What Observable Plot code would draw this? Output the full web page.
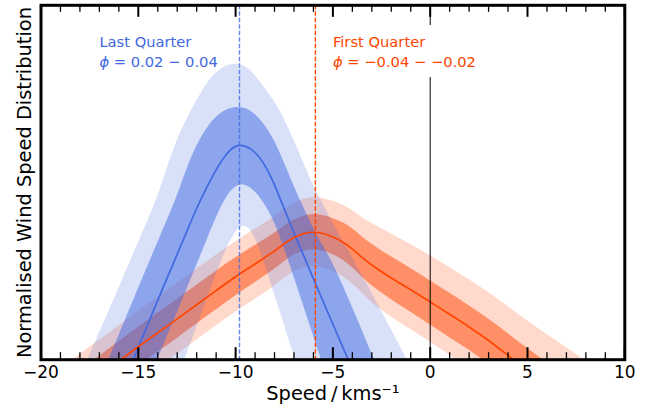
<!DOCTYPE html>
<html><head><meta charset="utf-8">
<script src="https://cdn.jsdelivr.net/npm/d3@7"></script>
<script src="https://cdn.jsdelivr.net/npm/@observablehq/plot@0.6"></script>
<style>body{margin:0;background:#fff} svg{display:block}</style>
</head><body><div id="chart"></div>
<script>
// ---- Last Quarter (blue) ----
const blueX        = [-19,-18,-17,-16,-15,-14,-13.5,-13,-12.5,-12,-11.5,-11,-10.5,-10,-9.5,-9,-8.5,-8,-7.5,-7,-6.5,-6,-5.5,-5,-4,-3,-2,-1,0];
const blueMedian   = [-0.49,-0.36,-0.23,-0.1,0.035,0.168,0.233,0.298,0.363,0.428,0.485,0.537,0.58,0.607,0.604,0.588,0.552,0.495,0.425,0.358,0.293,0.228,0.164,0.1,-0.027,-0.155,-0.28,-0.41,-0.54];
const blueInnerUp  = [-0.32,-0.195,-0.065,0.068,0.2,0.33,0.395,0.46,0.54,0.605,0.652,0.686,0.705,0.713,0.711,0.694,0.664,0.62,0.557,0.49,0.43,0.37,0.32,0.275,0.15,0.018,-0.115,-0.25,-0.38];
const blueInnerLo  = [-0.62,-0.53,-0.4,-0.265,-0.13,0.0,0.066,0.132,0.198,0.265,0.332,0.4,0.458,0.492,0.495,0.476,0.44,0.39,0.315,0.235,0.15,0.068,-0.015,-0.1,-0.27,-0.44,-0.6,-0.75,-0.9];
const blueOuterUp  = [-0.18,-0.05,0.075,0.2,0.33,0.455,0.545,0.62,0.68,0.73,0.778,0.81,0.83,0.836,0.83,0.804,0.767,0.73,0.68,0.62,0.555,0.49,0.44,0.385,0.29,0.19,0.085,-0.02,-0.12];
const blueOuterLo  = [-0.85,-0.7,-0.55,-0.42,-0.29,-0.17,-0.11,-0.05,0.014,0.09,0.165,0.24,0.31,0.365,0.385,0.35,0.27,0.185,0.1,0.01,-0.07,-0.15,-0.23,-0.31,-0.47,-0.63,-0.79,-0.95,-1.1];
const blueCentre = -9.8;

// ---- First Quarter (orange) ----
const orangeX       = [-20,-19,-18,-17,-16,-15,-14,-13,-12,-11,-10,-9,-8,-7.5,-7,-6.5,-6,-5.5,-5,-4.5,-4,-3.5,-3,-2,-1,0,1,2,3,4,5,6,7,8,9];
const orangeMedian  = [-0.165,-0.125,-0.085,-0.045,-0.005,0.037,0.076,0.115,0.155,0.195,0.235,0.27,0.306,0.328,0.346,0.357,0.361,0.357,0.347,0.333,0.313,0.288,0.266,0.23,0.198,0.163,0.128,0.093,0.055,0.012,-0.03,-0.07,-0.11,-0.15,-0.19];
const orangeInnerUp = [-0.11,-0.07,-0.03,0.01,0.05,0.092,0.131,0.17,0.21,0.25,0.288,0.322,0.356,0.377,0.395,0.406,0.411,0.408,0.399,0.388,0.37,0.347,0.325,0.29,0.258,0.223,0.188,0.153,0.115,0.074,0.032,-0.008,-0.048,-0.09,-0.13];
const orangeInnerLo = [-0.22,-0.18,-0.14,-0.1,-0.06,-0.018,0.021,0.06,0.1,0.14,0.18,0.217,0.254,0.277,0.296,0.307,0.311,0.307,0.297,0.283,0.26,0.233,0.208,0.168,0.134,0.098,0.062,0.027,-0.012,-0.055,-0.1,-0.14,-0.18,-0.22,-0.26];
const orangeOuterUp = [-0.065,-0.025,0.015,0.055,0.095,0.137,0.176,0.215,0.255,0.295,0.334,0.368,0.403,0.424,0.442,0.454,0.459,0.456,0.448,0.437,0.422,0.4,0.385,0.355,0.325,0.294,0.26,0.226,0.19,0.15,0.11,0.07,0.035,-0.005,-0.045];
const orangeOuterLo = [-0.265,-0.225,-0.185,-0.145,-0.105,-0.063,-0.024,0.015,0.055,0.095,0.135,0.17,0.206,0.23,0.249,0.26,0.264,0.26,0.25,0.236,0.215,0.188,0.16,0.12,0.085,0.05,0.013,-0.025,-0.065,-0.108,-0.15,-0.19,-0.23,-0.27,-0.31];
const orangeCentre = -5.9;

// ---- axis ticks and texts ----
const majorTicks = [-20,-15,-10,-5,0,5,10];
const minorTicks = [-19,-18,-17,-16,-14,-13,-12,-11,-9,-8,-7,-6,-4,-3,-2,-1,1,2,3,4,6,7,8,9];
const xLabel = "Speed\u2009/\u2009kms\u207B\u00B9";
const yLabel = "Normalised Wind Speed Distribution";
const labelTexts = [
  {x: -17, y: 0.882, text: "Last Quarter", c: "royalblue"},
  {x: -17, y: 0.825, text: "ϕ = 0.02 − 0.04", c: "royalblue"},
  {x: -5,  y: 0.882, text: "First Quarter", c: "orangered"},
  {x: -5,  y: 0.825, text: "ϕ = −0.04 − −0.02", c: "orangered"}
];
const labelBox = [{x1: -5.25, x2: 2.95, y1: 0.796, y2: 0.943}];

const blue = blueX.map((x, i) => ({x, m: blueMedian[i], iu: blueInnerUp[i], il: blueInnerLo[i], ou: blueOuterUp[i], ol: blueOuterLo[i]}));
const orange = orangeX.map((x, i) => ({x, m: orangeMedian[i], iu: orangeInnerUp[i], il: orangeInnerLo[i], ou: orangeOuterUp[i], ol: orangeOuterLo[i]}));

const W = 656, H = 407, mL = 40.5, mR = 31.7, mT = 4.8, mB = 47.8;
const plotH = H - mT - mB;
const curve = "basis";

function bands(data, color) {
  return [
    Plot.areaY(data, {x: "x", y1: "iu", y2: "ou", fill: color, fillOpacity: 0.2, curve, clip: true}),
    Plot.areaY(data, {x: "x", y1: "il", y2: "iu", fill: color, fillOpacity: 0.6, curve, clip: true}),
    Plot.areaY(data, {x: "x", y1: "ol", y2: "il", fill: color, fillOpacity: 0.2, curve, clip: true})
  ];
}
const fmt = d => d < 0 ? "\u2212" + Math.abs(d) : String(d);

const chart = Plot.plot({
  width: W, height: H,
  marginLeft: mL, marginRight: mR, marginTop: mT, marginBottom: mB,
  style: {fontFamily: "DejaVu Sans", background: "#fff", color: "black"},
  x: {domain: [-20, 10]},
  y: {domain: [0, 1], axis: null},
  marks: [
    ...bands(orange, "orangered"),
    ...bands(blue, "royalblue"),
    Plot.line(blue, {x: "x", y: "m", stroke: "royalblue", strokeWidth: 1.7, curve, clip: true}),
    Plot.line(orange, {x: "x", y: "m", stroke: "orangered", strokeWidth: 1.7, curve, clip: true}),
    Plot.ruleX([blueCentre], {stroke: "royalblue", strokeOpacity: 0.8, strokeWidth: 1.4, strokeDasharray: "4.5,2"}),
    Plot.ruleX([orangeCentre], {stroke: "orangered", strokeWidth: 1.4, strokeDasharray: "4.5,2"}),
    Plot.ruleX([0], {stroke: "black", strokeWidth: 1}),
    Plot.rect(labelBox, {x1: "x1", x2: "x2", y1: "y1", y2: "y2", fill: "white"}),
    Plot.text(labelTexts, {x: "x", y: "y", text: "text", fill: "c", textAnchor: "start", lineAnchor: "bottom", fontSize: 14.7}),
    Plot.ruleX(majorTicks, {x: d => d, insetTop: plotH - 12, stroke: "black", strokeWidth: 2}),
    Plot.ruleX(majorTicks, {x: d => d, insetBottom: plotH - 12, stroke: "black", strokeWidth: 2}),
    Plot.ruleX(minorTicks, {x: d => d, insetTop: plotH - 7, stroke: "black", strokeWidth: 1.3}),
    Plot.ruleX(minorTicks, {x: d => d, insetBottom: plotH - 7, stroke: "black", strokeWidth: 1.3}),
    Plot.axisX(majorTicks, {anchor: "bottom", tickSize: 0, tickPadding: 6, tickFormat: fmt, fontSize: 17, label: null}),
    Plot.text([xLabel], {frameAnchor: "bottom", dy: 33.6, fontSize: 19.4, lineAnchor: "middle", textAnchor: "middle"}),
    Plot.text([yLabel], {frameAnchor: "left", rotate: -90, dx: -16.7, fontSize: 19.4, lineAnchor: "middle", textAnchor: "middle"}),
    Plot.frame({stroke: "black", strokeWidth: 3})
  ]
});

// italic phi, as in the math-mode labels
d3.select(chart).selectAll("text").each(function () {
  const t = this.textContent;
  if (t && t.startsWith("ϕ") && this.children.length === 0) {
    const rest = t.slice(1);
    this.textContent = "";
    const s = d3.select(this);
    s.append("tspan").attr("font-style", "italic").text("ϕ");
    s.append("tspan").text(rest);
  }
});

document.getElementById("chart").appendChild(chart);
</script>
</body></html>
